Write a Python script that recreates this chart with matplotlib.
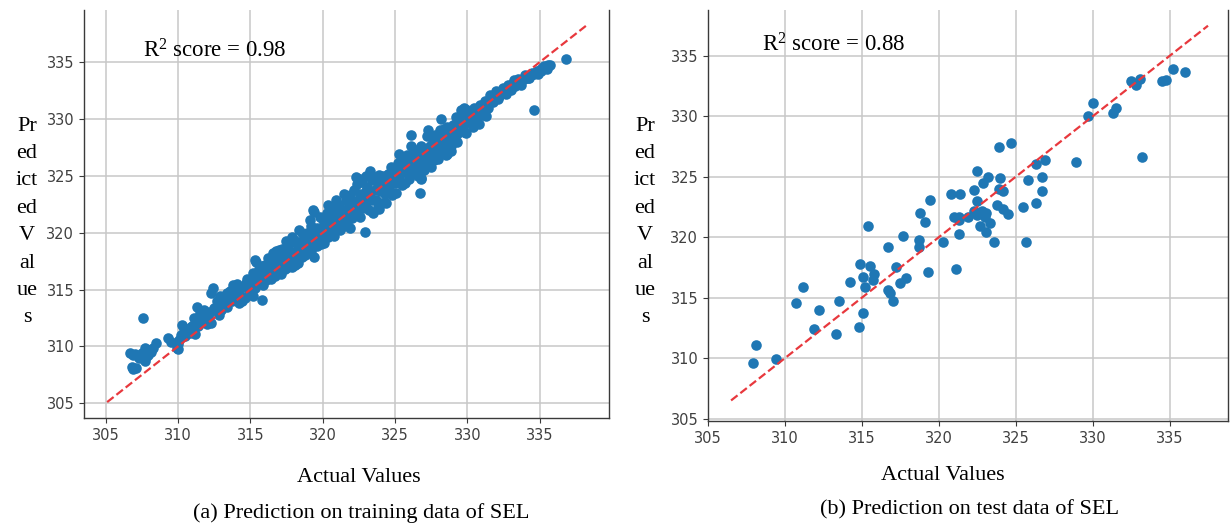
import matplotlib
matplotlib.use("Agg")
import matplotlib.pyplot as plt

# ---------------- data ----------------
train_actual = [
    306.7, 306.9, 307.0, 306.8, 306.9, 307.1, 307.5, 307.6, 307.7, 307.7, 307.8, 308.0, 308.1, 308.5,
    309.3, 309.5, 309.9, 310.0, 310.1, 310.0, 310.2,
    310.3, 310.4, 310.6, 310.8, 311.0, 311.1, 311.2, 311.3, 311.5, 311.6, 311.8, 311.9, 312.0, 312.2,
    312.3, 312.4, 312.5, 312.7, 312.8, 312.9, 313.0, 313.1, 313.2, 313.4, 313.4, 313.6, 313.7, 313.8,
    314.0, 314.1, 314.2, 314.3, 314.5, 314.6, 314.8, 314.9, 315.0, 315.2, 315.2, 315.4, 315.5, 315.6,
    315.8, 315.9, 315.9,
    316.0, 316.1, 316.2, 316.3, 316.4, 316.5, 316.6, 316.7, 316.8, 316.9, 317.0, 317.1, 317.2, 317.3,
    317.4, 317.5, 317.6, 317.7, 317.8, 317.9, 318.0, 318.1, 318.2, 318.3, 318.4, 318.5, 318.6, 318.7,
    318.8, 318.9, 319.0, 319.1, 319.2, 319.3, 319.4, 319.4, 319.5, 319.6, 319.7, 319.8, 319.9, 320.0,
    320.1, 320.2, 320.3, 320.4, 320.5, 320.6, 320.7, 320.8, 320.9, 321.0, 321.1, 321.2, 321.3, 321.4,
    321.5, 321.6, 321.7, 321.8, 321.9, 322.0, 322.1, 322.2, 322.3, 322.4, 322.5, 322.6, 322.7, 322.8,
    322.9, 323.0, 323.1, 323.2, 323.3, 323.4, 323.5, 323.6, 323.7, 323.8, 323.9, 324.0, 324.1, 324.2,
    324.3, 324.4, 324.5, 324.6, 324.7, 324.8, 324.9, 325.0,
    325.1, 325.2, 325.3, 325.4, 325.5, 325.6, 325.7, 325.8, 325.9, 326.0, 326.1, 326.2, 326.3, 326.4,
    326.5, 326.6, 326.7, 326.8, 326.9, 327.0, 327.1, 327.2, 327.3, 327.4, 327.5, 327.6, 327.7, 327.8,
    327.9, 328.0, 328.1, 328.2, 328.3, 328.4, 328.5, 328.6, 328.7, 328.8, 328.9, 329.0, 329.1, 329.2,
    329.3, 329.4, 329.5, 329.6, 329.7, 329.8, 329.9, 330.0,
    330.2, 330.4, 330.5, 330.7, 330.9, 331.0, 331.2, 331.4, 331.6, 331.8, 332.0, 332.1, 332.3, 332.5,
    332.7, 332.8, 333.0, 333.2, 333.3, 333.5, 333.7, 333.9, 334.1, 334.3, 334.4, 334.6, 334.6, 334.8,
    335.0, 335.2, 335.4, 335.6, 336.8,
    # second pass over the band
    307.3, 307.9, 308.3, 310.5, 310.9, 311.4, 311.7, 312.1, 312.6, 312.3,
    313.0, 313.3, 313.6, 313.9, 314.2, 314.4, 314.7, 314.9, 315.1, 315.3, 315.5, 315.7, 315.8, 315.3,
    316.0, 316.2, 316.4, 316.6, 316.8, 317.0, 317.2, 317.4, 317.6, 317.8, 318.0, 318.2, 318.4, 318.6,
    318.8, 319.0, 319.2, 319.4, 319.6, 319.8, 320.0, 320.0, 319.3, 318.9, 317.9, 316.9,
    320.2, 320.4, 320.6, 320.8, 321.0, 321.2, 321.4, 321.6, 321.8, 322.0, 322.2, 322.4, 322.6, 322.8,
    323.0, 323.2, 323.4, 323.6, 323.8, 324.0, 324.2, 324.4, 324.6, 324.8, 325.0, 322.3, 322.6, 323.0,
    323.3, 321.5, 320.9, 320.4, 321.9, 320.7, 323.9,
    325.2, 325.4, 325.6, 325.8, 326.0, 326.2, 326.4, 326.6, 326.8, 327.0, 327.2, 327.4, 327.6, 327.8,
    328.0, 328.2, 328.4, 328.6, 328.8, 329.0, 329.2, 329.4, 329.6, 329.8, 328.2, 327.3, 326.1, 325.3,
    329.8, 330.0,
    330.2, 330.6, 330.8, 331.3, 331.5, 331.9, 332.2, 332.6, 333.1, 333.4, 333.6, 334.0, 334.2, 334.5,
    334.9, 335.1, 335.3, 335.5, 335.7,
    # lower side of the band near 326-331
    328.5, 328.9, 328.0, 327.5, 327.0, 326.6, 329.3, 329.8, 330.4, 330.8, 331.3, 326.8,
]
train_pred = [
    309.4, 309.2, 309.3, 308.2, 308.0, 308.1, 309.4, 312.5, 308.7, 309.9, 309.1, 309.7, 309.5, 310.3,
    310.7, 310.4, 309.9, 310.2, 310.6, 309.8, 311.0,
    311.9, 311.5, 311.5, 311.2, 311.8, 312.5, 311.1, 313.5, 312.9, 312.1, 313.2, 312.4, 312.0, 313.0,
    314.7, 315.1, 313.4, 314.0, 312.8, 314.4, 313.2, 313.5, 314.4, 314.7, 313.5, 314.9, 314.0, 315.4,
    314.8, 315.5, 313.8, 314.4, 315.2, 314.3, 315.9, 314.6, 315.3, 314.4, 316.5, 317.4, 315.6, 316.8,
    314.1, 316.8, 315.4,
    317.2, 315.8, 316.4, 317.5, 315.9, 316.9, 318.2, 316.2, 317.6, 316.5, 318.5, 316.4, 317.3, 318.1,
    316.8, 319.3, 317.0, 318.3, 317.5, 319.6, 318.0, 317.2, 319.0, 317.3, 320.2, 318.5, 317.9, 319.4,
    318.0, 320.0, 318.8, 321.1, 318.4, 319.8, 321.8, 317.9, 320.3, 318.8, 319.5, 321.4, 319.0, 320.4,
    319.1, 321.0, 321.7, 319.6, 320.6, 319.8, 322.2, 319.7, 321.2, 320.3, 322.4, 320.2, 321.5, 322.0,
    320.6, 322.9, 320.8, 321.9, 323.3, 321.3, 322.5, 323.8, 321.6, 324.3, 322.8, 321.4, 324.5, 323.1,
    320.1, 322.3, 324.0, 322.0, 323.5, 324.6, 321.7, 324.9, 322.9, 322.3, 325.1, 323.7, 322.6, 325.0,
    323.4, 322.6, 325.2, 324.0, 325.8, 323.3, 324.6, 325.6,
    323.5, 326.1, 324.9, 326.4, 324.2, 325.5, 324.4, 326.8, 325.2, 324.7, 328.6, 326.0, 327.3, 325.4,
    326.6, 327.3, 323.5, 324.7, 325.8, 327.0, 326.2, 328.5, 326.0, 327.6, 326.5, 328.0, 326.4, 327.5,
    328.2, 327.0, 329.0, 330.0, 327.3, 329.1, 328.0, 326.9, 328.6, 329.1, 327.6, 329.5, 328.3, 330.2,
    328.7, 330.0, 329.0, 330.8, 329.3, 330.4, 328.8, 330.1,
    330.5, 329.3, 331.0, 330.6, 331.2, 330.4, 331.6, 331.0, 332.1, 331.5, 332.5, 331.8, 332.3, 332.7,
    332.2, 333.0, 332.6, 333.4, 332.9, 333.5, 333.0, 333.5, 333.8, 333.6, 333.9, 334.0, 330.8, 334.2,
    334.3, 334.5, 334.6, 334.8, 335.3,
    # second pass over the band
    309.0, 309.2, 309.9, 310.9, 311.7, 311.8, 312.6, 312.6, 313.2, 312.1,
    314.0, 313.9, 314.3, 314.3, 315.0, 314.0, 315.6, 315.0, 315.8, 315.1, 316.3, 315.9, 317.1, 317.6,
    316.5, 317.8, 317.0, 316.8, 318.4, 317.6, 318.6, 317.9, 318.8, 318.3, 319.4, 318.4, 319.2, 320.0,
    319.2, 319.9, 320.6, 319.3, 320.4, 319.7, 321.1, 319.5, 322.0, 318.4, 317.0, 317.2,
    320.2, 320.9, 321.4, 320.8, 321.8, 321.0, 321.3, 321.9, 322.4, 322.1, 322.8, 321.9, 323.4, 322.2,
    323.7, 323.1, 322.9, 323.8, 324.3, 324.4, 323.9, 324.9, 324.5, 325.2, 324.4, 324.9, 324.7, 325.0,
    325.4, 323.4, 322.9, 322.4, 320.4, 320.1, 322.1,
    325.2, 325.8, 326.0, 325.4, 326.4, 325.2, 326.9, 326.1, 327.6, 326.4, 327.2, 326.9, 327.3, 328.6,
    328.3, 328.6, 328.0, 329.3, 328.4, 328.8, 329.4, 329.5, 329.8, 329.7, 327.8, 329.0, 327.6, 326.9,
    331.0, 330.8,
    329.8, 330.1, 330.9, 331.2, 331.5, 332.0, 332.0, 332.4, 333.1, 333.3, 333.2, 333.9, 333.6, 334.1,
    334.0, 334.2, 334.7, 334.4, 334.8,
    # lower side of the band near 326-331
    326.8, 327.2, 326.5, 325.8, 325.5, 325.0, 328.0, 328.9, 329.4, 329.6, 330.3, 324.8,
]

test_actual = [
    307.9, 308.1, 309.4, 311.2, 310.7, 312.2, 311.9, 313.3, 313.5, 314.2, 314.8, 315.1, 314.9, 315.1,
    315.2, 315.4, 315.5, 315.7, 315.8, 316.7, 316.7, 316.8, 317.0, 317.2, 317.5, 317.7, 317.9, 318.7,
    318.7, 318.8, 319.1, 319.3, 319.4, 320.3, 320.8, 321.0, 321.1, 321.3, 321.4, 321.3, 321.3, 321.9,
    322.3, 322.3, 322.5, 322.5, 322.5, 322.7, 322.8, 322.9, 323.0, 323.1, 323.1, 323.2, 323.3, 323.6,
    323.8, 323.9, 323.9, 324.0, 324.2, 324.2, 324.5, 324.7, 325.5, 325.7, 325.8, 326.3, 326.3, 326.7,
    326.7, 326.9, 328.9, 329.7, 330.0, 331.3, 331.5, 332.5, 332.8, 333.1, 333.2, 334.5, 334.8, 335.2,
    336.0,
]
test_pred = [
    309.6, 311.1, 309.9, 315.9, 314.6, 314.0, 312.4, 312.0, 314.7, 316.3, 312.6, 313.7, 317.8, 316.7,
    315.9, 320.9, 317.6, 316.5, 317.0, 319.2, 315.6, 315.4, 314.7, 317.5, 316.2, 320.1, 316.6, 319.8,
    319.2, 322.0, 321.3, 317.1, 323.1, 319.6, 323.6, 321.7, 317.4, 320.3, 323.6, 321.7, 321.4, 321.7,
    323.9, 322.2, 325.5, 323.0, 321.8, 320.9, 322.2, 324.5, 321.7, 322.0, 320.4, 325.0, 321.2, 319.6,
    322.7, 327.5, 324.0, 324.9, 323.8, 322.3, 321.9, 327.8, 322.5, 319.6, 324.7, 326.1, 322.8, 323.8,
    325.0, 326.4, 326.2, 330.0, 331.1, 330.3, 330.7, 332.9, 332.6, 333.1, 326.6, 332.9, 333.0, 333.9,
    333.7,
]

train_line = [305.1, 338.2]
test_line = [306.5, 337.5]
ticks = [305, 310, 315, 320, 325, 330, 335]
r2_train = r"R$^{2}$ score = 0.98"
r2_test = r"R$^{2}$ score = 0.88"
ylabel_text = "Pr\ned\nict\ned\nV\nal\nue\ns"
xlabel_text = "Actual Values"
caption_a = "(a) Prediction on training data of SEL"
caption_b = "(b) Prediction on test data of SEL"

# ---------------- figure ----------------
plt.rcParams["mathtext.fontset"] = "custom"
plt.rcParams["mathtext.rm"] = "Liberation Serif"
plt.rcParams["mathtext.it"] = "Liberation Serif:italic"
plt.rcParams["mathtext.bf"] = "Liberation Serif:bold"

W, H = 1232, 526
fig = plt.figure(figsize=(W / 100, H / 100), dpi=100)
serif = ["Liberation Serif", "DejaVu Serif"]

def px_axes(l, t, r, b):
    return fig.add_axes([l / W, 1 - b / H, (r - l) / W, (b - t) / H])

ax1 = px_axes(84, 10, 609, 418)
ax2 = px_axes(708, 10, 1228, 421)

dot_color = "#1f77b4"
line_color = "#e8383d"

for ax, xa, ya, ln, xl, yl in [
    (ax1, train_actual, train_pred, train_line, (303.5, 339.8), (303.7, 339.6)),
    (ax2, test_actual, test_pred, test_line, (305.05, 338.8), (304.8, 338.8)),
]:
    ax.scatter(xa, ya, s=58, color=dot_color, linewidths=0, zorder=3)
    ax.plot(ln, ln, linestyle="--", color=line_color, lw=1.6, zorder=4)
    ax.set_xlim(*xl)
    ax.set_ylim(*yl)
    ax.set_xticks(ticks)
    ax.set_yticks(ticks)
    ax.grid(True, color="#c8c8c8", lw=1.1, zorder=0)
    ax.set_axisbelow(True)
    ax.spines["top"].set_visible(False)
    for s in ("left", "right", "bottom"):
        ax.spines[s].set_color("#3a3a3a")
        ax.spines[s].set_linewidth(1.0)
    ax.tick_params(labelsize=10.5, labelcolor="#404040", color="#3a3a3a", length=3.5)

# R^2 annotations
fig.text(143 / W, 1 - 58 / H, r2_train, fontsize=16.5, family=serif, va="baseline", ha="left")
fig.text(762 / W, 1 - 52 / H, r2_test, fontsize=16.5, family=serif, va="baseline", ha="left")

# stacked y labels
for xc in (27, 645):
    fig.text(xc / W, 1 - 222 / H, ylabel_text, fontsize=16, family=serif,
             ha="center", va="center", multialignment="center", linespacing=1.6)

# x labels and captions
fig.text(359 / W, 1 - 477 / H, xlabel_text, fontsize=16, family=serif, ha="center", va="center")
fig.text(943 / W, 1 - 475 / H, xlabel_text, fontsize=16, family=serif, ha="center", va="center")
fig.text(361 / W, 1 - 513 / H, caption_a, fontsize=16, family=serif, ha="center", va="center")
fig.text(970 / W, 1 - 510 / H, caption_b, fontsize=16, family=serif, ha="center", va="center")

fig.savefig("out.png", dpi=100)
